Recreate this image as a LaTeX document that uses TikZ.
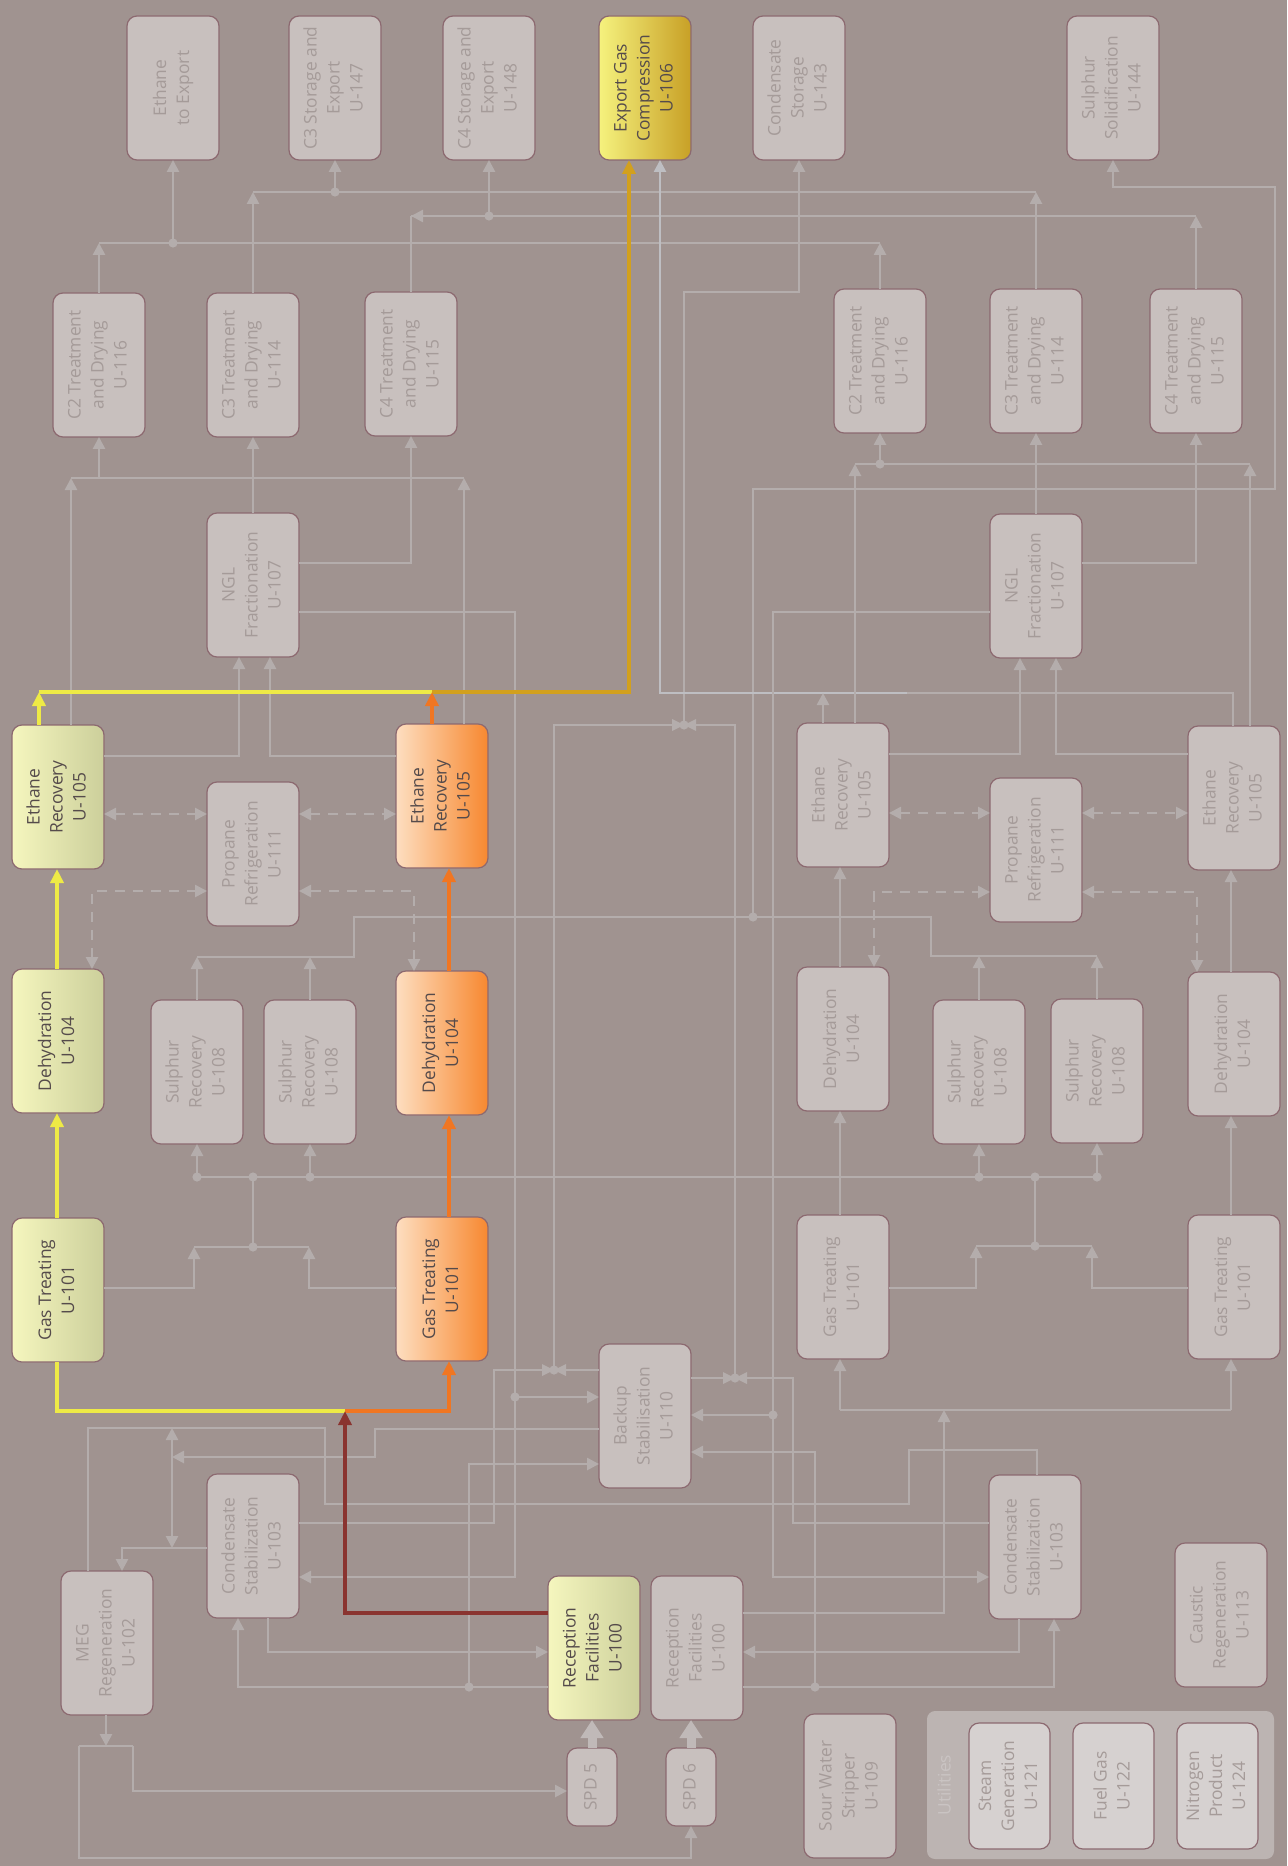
\documentclass[tikz,border=0pt]{standalone}
\usepackage{fontspec}
\setmainfont{Open Sans}
\usetikzlibrary{arrows.meta}
\definecolor{bgc}{RGB}{160,147,144}
\definecolor{boxc}{RGB}{200,192,190}
\definecolor{bdc}{RGB}{140,105,112}
\definecolor{txc}{RGB}{165,155,153}
\definecolor{dkt}{RGB}{85,75,75}
\definecolor{lnc}{RGB}{180,173,172}
\definecolor{lnhi}{RGB}{190,190,194}
\definecolor{bigc}{RGB}{192,185,184}
\definecolor{yl1}{RGB}{245,246,190}
\definecolor{yl2}{RGB}{204,207,155}
\definecolor{or1}{RGB}{253,222,192}
\definecolor{or2}{RGB}{247,136,48}
\definecolor{go1}{RGB}{245,242,126}
\definecolor{go2}{RGB}{200,160,38}
\definecolor{ylc}{RGB}{238,234,70}
\definecolor{orc}{RGB}{240,118,34}
\definecolor{goc}{RGB}{210,160,30}
\definecolor{drc}{RGB}{138,52,48}
\definecolor{ufr}{RGB}{188,180,178}
\definecolor{ufc}{RGB}{214,209,208}
\definecolor{utc}{RGB}{202,196,195}
\newcommand\fs{\fontsize{8.7}{11.5}\selectfont}
\newcommand\rtxt[1]{\rotatebox{90}{\begin{tabular}{@{}c@{}}#1\end{tabular}}}
\newcommand\ubx[7]{\node[#6, minimum width={(#4-#2)*0.5pt}, minimum height={(#5-#3)*0.5pt}] (#1) at ({(#2+#4)/2},{(#3+#5)/2}) {\rtxt{#7}};}
\newcommand\dt[2]{\fill[lnc] (#1,#2) circle[radius=2.3pt];}
\newcommand\valve[2]{\fill[lnc] ({#1-12},{#2-6}) -- (#1,#2) -- ({#1-12},{#2+6}) -- cycle ({#1+12},{#2-6}) -- (#1,#2) -- ({#1+12},{#2+6}) -- cycle; \fill[lnc] (#1,#2) circle[radius=2.3pt];}
\begin{document}
\begin{tikzpicture}[x=0.5pt,y=-0.5pt,
  gbox/.style={draw=bdc, fill=boxc, rounded corners=5pt, inner sep=0pt, outer sep=0pt, text=txc, font=\fs, line width=0.6pt},
  ybox/.style={gbox, left color=yl1, right color=yl2, text=dkt},
  obox/.style={gbox, left color=or1, right color=or2, text=dkt},
  gdbox/.style={gbox, left color=go1, right color=go2, text=dkt},
  ubox/.style={gbox, fill=ufc},
  ln/.style={draw=lnc, line width=1.3pt},
  ar/.style={ln, -{Triangle[length=6pt,width=6pt]}},
  artwo/.style={ln, {Triangle[length=6pt,width=6pt]}-{Triangle[length=6pt,width=6pt]}},
  dsh/.style={artwo, dash pattern=on 5pt off 4pt},
  arhi/.style={draw=lnhi, line width=1.3pt, -{Triangle[length=6pt,width=6pt]}},
  hyl/.style={draw=ylc, line width=1.8pt},
  hy/.style={hyl, -{Triangle[length=7pt,width=6.5pt]}},
  hol/.style={draw=orc, line width=1.8pt},
  hor/.style={hol, -{Triangle[length=7pt,width=6.5pt]}},
  hgo/.style={draw=goc, line width=1.8pt, -{Triangle[length=7pt,width=6.5pt]}},
  hdr/.style={draw=drc, line width=1.8pt, -{Triangle[length=7pt,width=6.5pt]}},
  bigar/.style={draw=bigc, line width=4.5pt, -{Triangle[length=9pt,width=11pt]}}
]
\fill[bgc] (0,0) rectangle (1287,1866);
\useasboundingbox (0,0) rectangle (1287,1866);

% ---------- boxes ----------
\ubx{ete}{127}{16}{219}{160}{gbox}{Ethane\\to Export}
\ubx{c3s}{289}{16}{381}{160}{gbox}{C3 Storage and\\Export\\U-147}
\ubx{c4s}{443}{16}{535}{160}{gbox}{C4 Storage and\\Export\\U-148}
\ubx{egc}{599}{16}{691}{160}{gdbox}{Export Gas\\Compression\\U-106}
\ubx{cds}{753}{16}{845}{160}{gbox}{Condensate\\Storage\\U-143}
\ubx{sso}{1067}{16}{1159}{160}{gbox}{Sulphur\\Solidification\\U-144}

\ubx{c2a}{53}{293}{145}{437}{gbox}{C2 Treatment\\and Drying\\U-116}
\ubx{c3a}{207}{293}{299}{437}{gbox}{C3 Treatment\\and Drying\\U-114}
\ubx{c4a}{365}{292}{457}{436}{gbox}{C4 Treatment\\and Drying\\U-115}
\ubx{c2b}{834}{289}{926}{433}{gbox}{C2 Treatment\\and Drying\\U-116}
\ubx{c3b}{990}{289}{1082}{433}{gbox}{C3 Treatment\\and Drying\\U-114}
\ubx{c4b}{1150}{289}{1242}{433}{gbox}{C4 Treatment\\and Drying\\U-115}

\ubx{ngla}{207}{513}{299}{657}{gbox}{NGL\\Fractionation\\U-107}
\ubx{nglb}{990}{514}{1082}{658}{gbox}{NGL\\Fractionation\\U-107}

\ubx{era}{12}{725}{104}{869}{ybox}{Ethane\\Recovery\\U-105}
\ubx{erb}{396}{724}{488}{868}{obox}{Ethane\\Recovery\\U-105}
\ubx{erc}{797}{723}{889}{867}{gbox}{Ethane\\Recovery\\U-105}
\ubx{erd}{1188}{726}{1280}{870}{gbox}{Ethane\\Recovery\\U-105}

\ubx{pra}{207}{782}{299}{926}{gbox}{Propane\\Refrigeration\\U-111}
\ubx{prb}{990}{778}{1082}{922}{gbox}{Propane\\Refrigeration\\U-111}

\ubx{dha}{12}{969}{104}{1113}{ybox}{Dehydration\\U-104}
\ubx{dhb}{396}{971}{488}{1115}{obox}{Dehydration\\U-104}
\ubx{dhc}{797}{967}{889}{1111}{gbox}{Dehydration\\U-104}
\ubx{dhd}{1188}{972}{1280}{1116}{gbox}{Dehydration\\U-104}

\ubx{sra}{151}{1000}{243}{1144}{gbox}{Sulphur\\Recovery\\U-108}
\ubx{srb}{264}{1000}{356}{1144}{gbox}{Sulphur\\Recovery\\U-108}
\ubx{src}{933}{1000}{1025}{1144}{gbox}{Sulphur\\Recovery\\U-108}
\ubx{srd}{1051}{999}{1143}{1143}{gbox}{Sulphur\\Recovery\\U-108}

\ubx{gta}{12}{1218}{104}{1362}{ybox}{Gas Treating\\U-101}
\ubx{gtb}{396}{1217}{488}{1361}{obox}{Gas Treating\\U-101}
\ubx{gtc}{797}{1215}{889}{1359}{gbox}{Gas Treating\\U-101}
\ubx{gtd}{1188}{1215}{1280}{1359}{gbox}{Gas Treating\\U-101}

\ubx{bst}{599}{1344}{691}{1488}{gbox}{Backup\\Stabilisation\\U-110}
\ubx{csa}{207}{1474}{299}{1618}{gbox}{Condensate\\Stabilization\\U-103}
\ubx{csb}{989}{1475}{1081}{1619}{gbox}{Condensate\\Stabilization\\U-103}
\ubx{meg}{61}{1571}{153}{1715}{gbox}{MEG\\Regeneration\\U-102}
\ubx{rfa}{548}{1576}{640}{1720}{ybox}{Reception\\Facilities\\U-100}
\ubx{rfb}{651}{1576}{743}{1720}{gbox}{Reception\\Facilities\\U-100}
\ubx{spda}{567}{1748}{617}{1826}{gbox}{SPD 5}
\ubx{spdb}{666}{1748}{716}{1826}{gbox}{SPD 6}
\ubx{cau}{1175}{1543}{1267}{1687}{gbox}{Caustic\\Regeneration\\U-113}
\ubx{sws}{804}{1714}{896}{1858}{gbox}{Sour Water\\Stripper\\U-109}

\fill[ufr, rounded corners=4pt] (927,1711) rectangle (1274,1859);
\node[rotate=90, text=utc, font=\fs, inner sep=0pt] (utl) at (944,1785) {Utilities};
\ubx{stm}{969}{1723}{1050}{1849}{ubox}{Steam\\Generation\\U-121}
\ubx{fgs}{1073}{1723}{1154}{1849}{ubox}{Fuel Gas\\U-122}
\ubx{nit}{1177}{1723}{1258}{1849}{ubox}{Nitrogen\\Product\\U-124}

% ---------- top headers ----------
\draw[ar] (c2a.north) -- (c2a.north |- 0,243);
\draw[ar] (c2b.north) -- (c2b.north |- 0,243);
\draw[ln] (c2a.north |- 0,243) -- (c2b.north |- 0,243);
\draw[ar] (ete.south |- 0,243) -- (ete.south);
\dt{173}{243}

\draw[ar] (c3a.north) -- (c3a.north |- 0,192);
\draw[ar] (c3b.north) -- (c3b.north |- 0,192);
\draw[ln] (c3a.north |- 0,192) -- (c3b.north |- 0,192);
\draw[ar] (c3s.south |- 0,192) -- (c3s.south);
\dt{335}{192}

\draw[ln] (c4a.north) -- (c4a.north |- 0,216);
\draw[ar] (c4b.north) -- (c4b.north |- 0,216);
\draw[ln] (c4a.north |- 0,216) -- (c4b.north |- 0,216);
\draw[ar] (445,216) -- (c4a.north |- 0,216);
\draw[ar] (c4s.south |- 0,216) -- (c4s.south);
\dt{489}{216}

% condensate storage via valves
\draw[ar] (684,725) -- (684,292) -- (cds.south |- 0,292) -- (cds.south);
\draw[ln] (554,1370) -- (554,725) -- (735,725) -- (735,1378);
\draw[ln] (csa.east |- 0,1523) -- (494,1523) -- (494,1370) -- (bst.west |- 0,1370);
\draw[ln] (bst.east |- 0,1378) -- (793,1378) -- (793,1523) -- (csb.west |- 0,1523);
\valve{684}{725}
\valve{554}{1370}
\valve{735}{1378}

% sulphur solidification
\draw[ar] (753,917) -- (753,489) -- (1275,489) -- (1275,187) -- (sso.south |- 0,187) -- (sso.south);
\dt{753}{917}

% grey export gas
\draw[ln] (1233,0 |- erd.north) -- (1233,693) -- (907,693);
\draw[arhi] (907,693) -- (660,693) -- (660,0 |- egc.south);
\draw[ar] (823,0 |- erc.north) -- (823,693);

% ethane headers
\draw[ar] (71,0 |- era.north) -- (71,478);
\draw[ar] (464,0 |- erb.north) -- (464,478);
\draw[ln] (71,478) -- (464,478);
\draw[ar] (c2a.south |- 0,478) -- (c2a.south);
\draw[ar] (855,0 |- erc.north) -- (855,464);
\draw[ar] (1250,0 |- erd.north) -- (1250,464);
\draw[ln] (855,464) -- (1250,464);
\draw[ar] (c2b.south |- 0,464) -- (c2b.south);
\dt{880}{464}

% NGL a
\draw[ar] (ngla.north) -- (c3a.south);
\draw[ar] (ngla.east |- 0,563) -- (c4a.south |- 0,563) -- (c4a.south);
\draw[ar] (ngla.east |- 0,612) -- (515,612) -- (515,1577) -- (csa.east |- 0,1577);
\draw[ar] (515,1397) -- (bst.west |- 0,1397);
\dt{515}{1397}
\draw[ar] (era.east |- 0,756) -- (239,756) -- (239,0 |- ngla.south);
\draw[ar] (erb.west |- 0,756) -- (270,756) -- (270,0 |- ngla.south);

% NGL b
\draw[ar] (nglb.north) -- (c3b.south);
\draw[ar] (nglb.east |- 0,563) -- (c4b.south |- 0,563) -- (c4b.south);
\draw[ar] (nglb.west |- 0,612) -- (773,612) -- (773,1577) -- (csb.west |- 0,1577);
\draw[ar] (773,1415) -- (bst.east |- 0,1415);
\dt{773}{1415}
\draw[ar] (erc.east |- 0,754) -- (1020,754) -- (1020,0 |- nglb.south);
\draw[ar] (erd.west |- 0,754) -- (1056,754) -- (1056,0 |- nglb.south);

% propane refrigeration (dashed)
\draw[dsh] (era.east |- 0,814) -- (pra.west |- 0,814);
\draw[dsh] (pra.east |- 0,814) -- (erb.west |- 0,814);
\draw[dsh] (erc.east |- 0,813) -- (prb.west |- 0,813);
\draw[dsh] (prb.east |- 0,813) -- (erd.west |- 0,813);
\draw[dsh] (92,0 |- dha.north) -- (92,891) -- (pra.west |- 0,891);
\draw[dsh] (414,0 |- dhb.north) -- (414,891) -- (pra.east |- 0,891);
\draw[dsh] (874,0 |- dhc.north) -- (874,892) -- (prb.west |- 0,892);
\draw[dsh] (1197,0 |- dhd.north) -- (1197,892) -- (prb.east |- 0,892);

% grey main train
\draw[ar] (840,0 |- dhc.north) -- (840,0 |- erc.south);
\draw[ar] (840,0 |- gtc.north) -- (840,0 |- dhc.south);
\draw[ar] (1231,0 |- dhd.north) -- (1231,0 |- erd.south);
\draw[ar] (1231,0 |- gtd.north) -- (1231,0 |- dhd.south);

% sulphur recovery
\draw[ar] (gta.east |- 0,1288) -- (194,1288) -- (194,1247);
\draw[ar] (gtb.west |- 0,1288) -- (309,1288) -- (309,1247);
\draw[ln] (194,1247) -- (309,1247);
\draw[ln] (253,1247) -- (253,1177);
\dt{253}{1247}
\draw[ln] (sra.south |- 0,1177) -- (srd.south |- 0,1177);
\draw[ar] (sra.south |- 0,1177) -- (sra.south);
\draw[ar] (srb.south |- 0,1177) -- (srb.south);
\draw[ar] (src.south |- 0,1177) -- (src.south);
\draw[ar] (srd.south |- 0,1177) -- (srd.south);
\dt{197}{1177}\dt{253}{1177}\dt{310}{1177}\dt{979}{1177}\dt{1035}{1177}\dt{1097}{1177}
\draw[ar] (sra.north) -- (sra.north |- 0,957);
\draw[ar] (srb.north) -- (srb.north |- 0,957);
\draw[ln] (sra.north |- 0,957) -- (354,957) -- (354,917) -- (931,917) -- (931,956) -- (srd.north |- 0,956);
\draw[ar] (src.north) -- (src.north |- 0,956);
\draw[ar] (srd.north) -- (srd.north |- 0,956);
\draw[ar] (gtc.east |- 0,1288) -- (976,1288) -- (976,1246);
\draw[ar] (gtd.west |- 0,1288) -- (1092,1288) -- (1092,1246);
\draw[ln] (976,1246) -- (1092,1246);
\draw[ln] (1035,1246) -- (1035,1177);
\dt{1035}{1246}

% reception grey
\draw[ar] (rfb.east |- 0,1613) -- (944,1613) -- (944,1410);
\draw[ln] (840,1410) -- (1231,1410);
\draw[ar] (840,1410) -- (840,0 |- gtc.south);
\draw[ar] (1231,1410) -- (1231,0 |- gtd.south);

% condensate stabilisation / MEG
\draw[ar] (csa.west |- 0,1548) -- (122,1548) -- (122,0 |- meg.north);
\draw[artwo] (172,1428) -- (172,1548);
\draw[ar] (bst.west |- 0,1429) -- (375,1429) -- (375,1457) -- (172,1457);
\draw[ln] (88,0 |- meg.north) -- (88,1428) -- (325,1428) -- (325,1504) -- (909,1504) -- (909,1450) -- (1037,1450) -- (1037,0 |- csb.north);
\draw[ar] (268,0 |- csa.south) -- (268,1652) -- (rfa.west |- 0,1652);
\draw[ar] (rfa.west |- 0,1687) -- (238,1687) -- (238,0 |- csa.south);
\draw[ar] (469,1687) -- (469,1464) -- (bst.west |- 0,1464);
\dt{469}{1687}
\draw[ar] (815,1687) -- (815,1452) -- (bst.east |- 0,1452);
\dt{815}{1687}
\draw[ar] (rfb.east |- 0,1687) -- (1054,1687) -- (1054,0 |- csb.south);
\draw[ar] (1019,0 |- csb.south) -- (1019,1652) -- (rfb.east |- 0,1652);

% MEG to SPD
\draw[ar] (106,0 |- meg.south) -- (106,1746);
\draw[ln] (79,1746) -- (133,1746);
\draw[ar] (133,1746) -- (133,1791) -- (spda.west |- 0,1791);
\draw[ar] (79,1746) -- (79,1858) -- (spdb.south |- 0,1858) -- (spdb.south);
\draw[bigar] (spda.north) -- (spda.north |- rfa.south);
\draw[bigar] (spdb.north) -- (spdb.north |- rfb.south);

% ---------- highlighted trains ----------
\draw[hyl] (57,0 |- gta.south) -- (57,1411) -- (345,1411);
\draw[hor] (345,1411) -- (449,1411) -- (449,0 |- gtb.south);
\draw[hdr] (rfa.west |- 0,1613) -- (345,1613) -- (345,1411);
\draw[hy] (57,0 |- gta.north) -- (57,0 |- dha.south);
\draw[hy] (57,0 |- dha.north) -- (57,0 |- era.south);
\draw[hor] (449,0 |- gtb.north) -- (449,0 |- dhb.south);
\draw[hor] (449,0 |- dhb.north) -- (449,0 |- erb.south);
\draw[hy] (39,0 |- era.north) -- (39,692);
\draw[hyl] (39,692) -- (432,692);
\draw[hgo] (432,692) -- (629,692) -- (629,0 |- egc.south);
\draw[hor] (432,0 |- erb.north) -- (432,692);
\end{tikzpicture}
\end{document}
